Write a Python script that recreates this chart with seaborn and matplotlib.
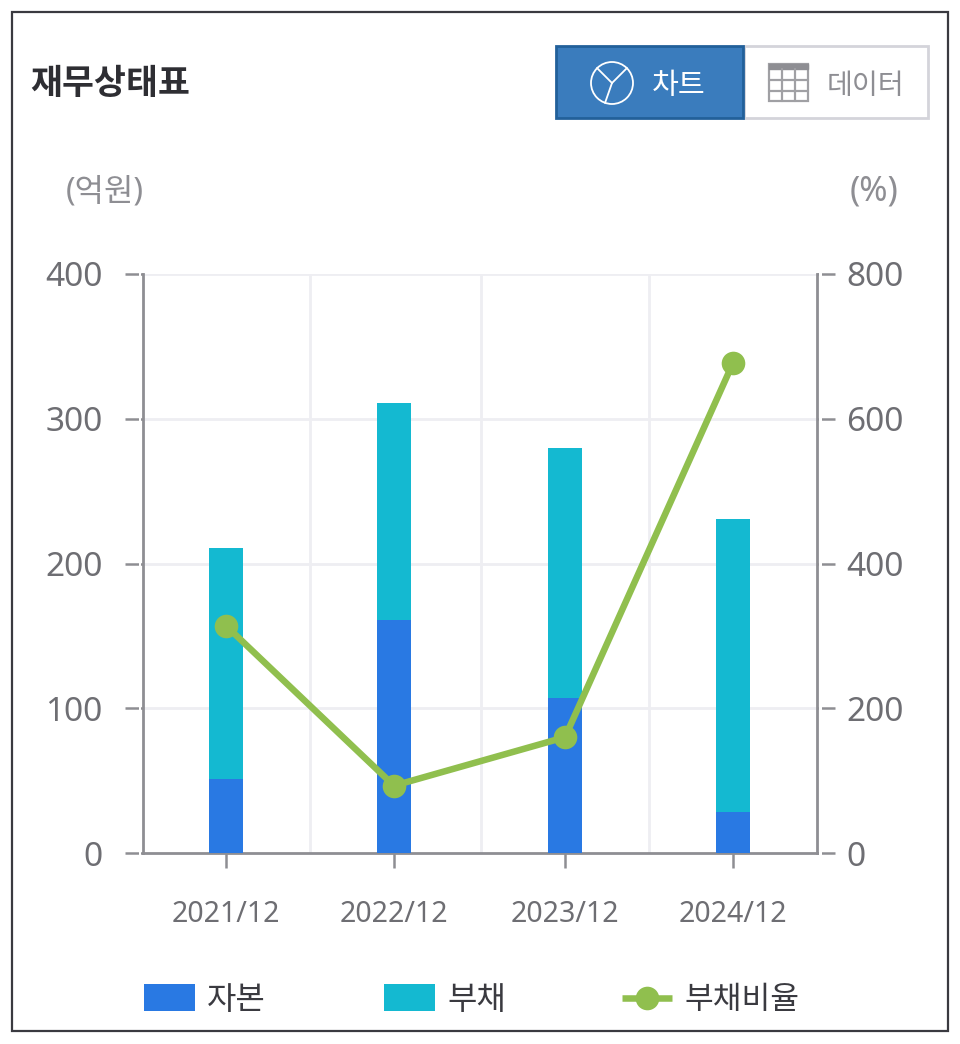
import pandas as pd
import matplotlib.pyplot as plt
import matplotlib.patches as mpatches
import seaborn as sns

# values
periods = ['2021/12', '2022/12', '2023/12', '2024/12']
equity = [51, 161, 107, 28]
debt = [160, 150, 173, 203]
debt_ratio = [314, 93, 160, 677]
y_left = [0, 100, 200, 300, 400]
y_right = [0, 200, 400, 600, 800]
# the category slots are not evenly wide in the original
x_pos = [226, 394, 565, 733]
x_div = [310, 481, 649]

sns.set_theme(style='white')
plt.rcParams['font.family'] = ['Noto Sans', 'Noto Sans CJK KR', 'DejaVu Sans']

fig = plt.figure(figsize=(9.6, 10.44), dpi=100)
W, H = 960, 1044
AXIS = '#8e8e93'
LABEL = '#6e6e73'
GREEN = '#90bf4e'
BLUE = '#2979e3'
CYAN = '#14b9d1'


def to_box(left, top, right, bottom):
    return [left / W, 1 - bottom / H, (right - left) / W, (bottom - top) / H]


# axes pixel box
ax = fig.add_axes(to_box(143, 274, 817, 853))
ax.set_xlim(143, 817)
ax.set_ylim(0, 400)

df = pd.DataFrame({'period': periods, 'x': x_pos, 'equity': equity, 'debt': debt})
df['total'] = df['equity'] + df['debt']

ax.hlines(y_left[1:], 143, 817, color='#eeeef2', lw=2, zorder=0)
ax.vlines(x_div, 0, 400, color='#eeeef2', lw=2, zorder=0)

# native_scale keeps bars at real x positions, width is relative to the slot
sns.barplot(data=df, x='x', y='total', native_scale=True, color=CYAN, width=0.2,
            saturation=1, linewidth=0, ax=ax, zorder=2)
sns.barplot(data=df, x='x', y='equity', native_scale=True, color=BLUE, width=0.2,
            saturation=1, linewidth=0, ax=ax, zorder=3)
ax.set_xlim(143, 817)
ax.set_xlabel('')
ax.set_ylabel('')

ax.spines['top'].set_visible(False)
ax.spines['right'].set_visible(False)
for s in ['left', 'bottom']:
    ax.spines[s].set_visible(True)
    ax.spines[s].set_color(AXIS)
    ax.spines[s].set_linewidth(2)

ax.set_yticks(y_left)
ax.set_xticks(x_pos, periods)
ax.tick_params(axis='y', length=13, width=1.8, color=AXIS, labelsize=24,
               labelcolor=LABEL, pad=16, left=True)
ax.tick_params(axis='x', length=11, width=1.8, color=AXIS, labelsize=20.5,
               labelcolor=LABEL, pad=22.5, bottom=True)

ax2 = ax.twinx()
ax2.set_ylim(0, 800)
ax2.set_yticks(y_right)
sns.lineplot(x=x_pos, y=debt_ratio, color=GREEN, lw=4.7, marker='o', markersize=17,
             markeredgewidth=0, ax=ax2, zorder=5)
ax2.set_xlim(143, 817)
ax2.set_ylabel('')
for s in ['top', 'left', 'bottom']:
    ax2.spines[s].set_visible(False)
ax2.spines['right'].set_visible(True)
ax2.spines['right'].set_color(AXIS)
ax2.spines['right'].set_linewidth(2)
ax2.tick_params(axis='y', length=13, width=1.8, color=AXIS, labelsize=24,
                labelcolor=LABEL, pad=8, right=True)

# overlay in pixel coordinates for frame, title, buttons and legend
ov = fig.add_axes([0, 0, 1, 1], facecolor='none')
ov.set_xlim(0, W)
ov.set_ylim(H, 0)
ov.axis('off')
ov.add_patch(mpatches.Rectangle((12, 12), 936, 1019, fc='none', ec='#3a3a40', lw=1.6))
ov.text(30, 85, '재무상태표', fontsize=25, fontweight='bold', color='#2e2e33', va='center')

# small gap between ticks and axis lines
ov.add_patch(mpatches.Rectangle((138.5, 265), 2.5, 595, fc='white', ec='none'))
ov.add_patch(mpatches.Rectangle((819, 265), 2.5, 595, fc='white', ec='none'))

# toggle buttons
ov.add_patch(mpatches.Rectangle((744, 46), 184, 72, fc='white', ec='#d4d4da', lw=2))
ov.add_patch(mpatches.Rectangle((556, 46), 187, 72, fc='#3a7cbd', ec='#22609a', lw=2))
ov.add_patch(mpatches.Circle((612, 83), 21, fc='none', ec='white', lw=1.3))
ov.plot([612, 597], [83, 68], color='white', lw=1.3)
ov.plot([612, 627], [83, 68], color='white', lw=1.3)
ov.plot([612, 605], [83, 103], color='white', lw=1.3)
ov.text(679, 87, '차트', fontsize=21, color='white', ha='center', va='center')
ov.add_patch(mpatches.Rectangle((769, 64), 39, 37, fc='none', ec='#a0a0a4', lw=1.6))
ov.add_patch(mpatches.Rectangle((769, 64), 39, 5, fc='#8e8e93', ec='#8e8e93', lw=1))
ov.plot([782, 782], [69, 101], color='#a0a0a4', lw=1.6)
ov.plot([795, 795], [69, 101], color='#a0a0a4', lw=1.6)
ov.plot([769, 808], [80, 80], color='#a0a0a4', lw=1.6)
ov.plot([769, 808], [91, 91], color='#a0a0a4', lw=1.6)
ov.text(865, 87, '데이터', fontsize=20.3, color=AXIS, ha='center', va='center')

# axis units
ov.text(105, 192, '(억원)', fontsize=23, color=AXIS, ha='center', va='center')
ov.text(874, 192, '(%)', fontsize=24.5, color=AXIS, ha='center', va='center')

# legend
ov.add_patch(mpatches.Rectangle((144, 984), 51, 27, fc=BLUE, ec='none'))
ov.text(207, 1001, '자본', fontsize=23, color='#3a3a40', va='center')
ov.add_patch(mpatches.Rectangle((384, 984), 51, 27, fc=CYAN, ec='none'))
ov.text(447, 1001, '부채', fontsize=23, color='#3a3a40', va='center')
ov.plot([622, 672], [998, 998], color=GREEN, lw=4.7, solid_capstyle='butt')
ov.plot([647], [998], 'o', color=GREEN, ms=17, mew=0)
ov.text(684, 1001, '부채비율', fontsize=22.5, color='#3a3a40', va='center')

fig.savefig('out.png', dpi=100, facecolor='white')
